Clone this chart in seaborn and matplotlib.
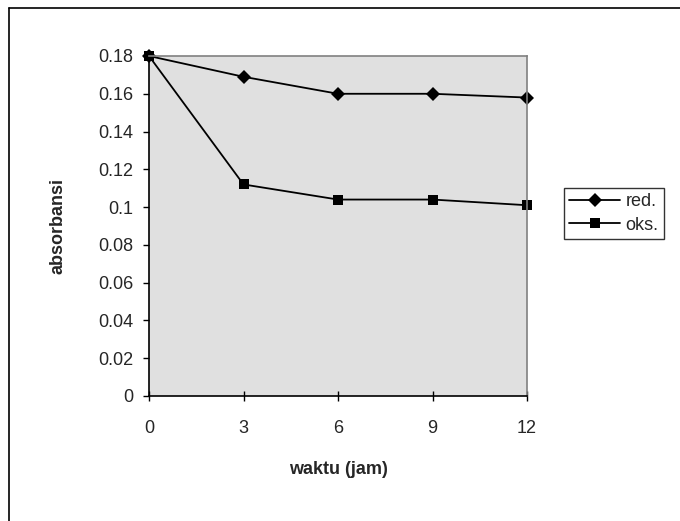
import matplotlib
matplotlib.use('Agg')
import matplotlib.pyplot as plt
import matplotlib.ticker as mticker
from matplotlib.lines import Line2D
import pandas as pd
import seaborn as sns

# data
waktu = [0, 3, 6, 9, 12]
red = [0.180, 0.169, 0.160, 0.160, 0.158]
oks = [0.180, 0.112, 0.104, 0.104, 0.101]
seri = ['red.', 'oks.']

df = pd.DataFrame({
    'waktu': waktu * 2,
    'absorbansi': red + oks,
    'seri': [seri[0]] * len(waktu) + [seri[1]] * len(waktu),
})

sns.set_theme(style='white')
plt.rcParams['font.family'] = ['Liberation Sans', 'DejaVu Sans']

fig = plt.figure(figsize=(6.8, 5.21), dpi=100)
ax = fig.add_axes([149 / 680, 1 - 396 / 521, 378 / 680, 340 / 521])
ax.set_facecolor('#e0e0e0')

sns.lineplot(data=df, x='waktu', y='absorbansi', hue='seri', style='seri',
             hue_order=seri, style_order=seri,
             palette=['black', 'black'], markers={'red.': 'D', 'oks.': 's'},
             dashes=False, markersize=7.5, linewidth=1.3, markeredgewidth=0,
             clip_on=False, ax=ax, legend=True)

ax.set_xlim(0, 12)
ax.set_ylim(0, 0.18)
ax.set_xticks(waktu)
ax.set_yticks([i * 0.02 for i in range(10)])
ax.yaxis.set_major_formatter(mticker.FuncFormatter(lambda v, p: '%g' % round(v, 2)))

for s in ['top', 'right']:
    ax.spines[s].set_color('#808080')
    ax.spines[s].set_linewidth(1.2)
for s in ['left', 'bottom']:
    ax.spines[s].set_color('black')
    ax.spines[s].set_linewidth(1.2)

ax.tick_params(axis='y', direction='out', length=4.5, width=1, color='black',
               pad=7, labelsize=13, left=True)
ax.tick_params(axis='x', direction='inout', length=7, width=1, color='black',
               pad=14, labelsize=13, bottom=True)

ax.set_xlabel('waktu (jam)', fontsize=13, fontweight='bold')
ax.set_ylabel('absorbansi', fontsize=13, fontweight='bold')
ax.xaxis.label.set_va('center')
ax.yaxis.label.set_va('center')
ax.xaxis.set_label_coords(0.5, (396 - 470) / 340)
ax.yaxis.set_label_coords((58 - 149) / 378, 0.5)

handles, labels = ax.get_legend_handles_labels()
leg = ax.legend(handles, labels, loc='upper left',
                bbox_to_anchor=(564 / 680, 1 - 188 / 521),
                bbox_transform=fig.transFigure, frameon=True, fancybox=False,
                fontsize=13, handlelength=2.8, borderpad=0.3, labelspacing=0.35,
                handletextpad=0.3, borderaxespad=0)
leg.get_frame().set_edgecolor('black')
leg.get_frame().set_linewidth(1)

# outer chart border (left and top only visible)
fig.add_artist(Line2D([9 / 680, 9 / 680], [0, 1 - 8 / 521], color='black',
                      linewidth=1.2, transform=fig.transFigure))
fig.add_artist(Line2D([9 / 680, 1], [1 - 8 / 521, 1 - 8 / 521], color='black',
                      linewidth=1.2, transform=fig.transFigure))

fig.savefig('out.png', dpi=100, facecolor='white')
